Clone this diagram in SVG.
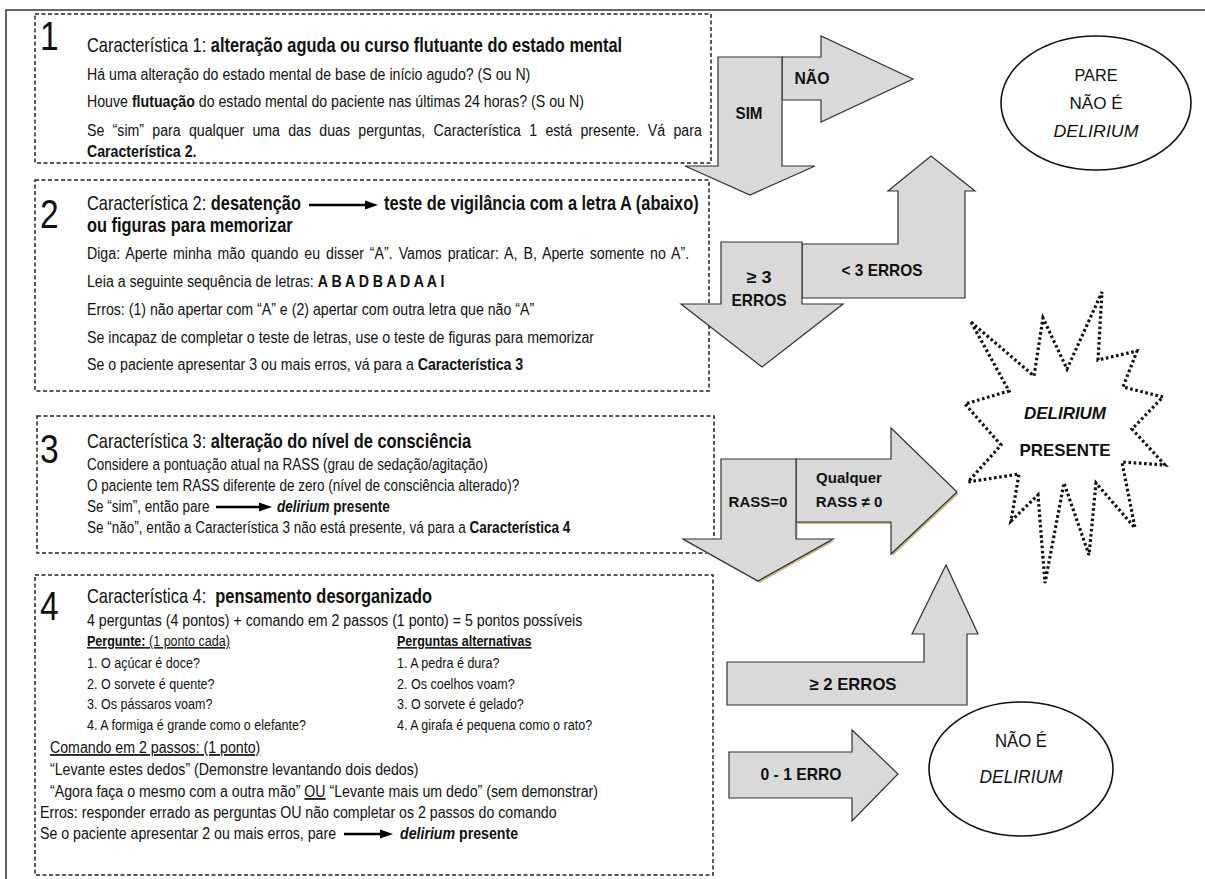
<svg xmlns="http://www.w3.org/2000/svg" width="1205" height="879" viewBox="0 0 1205 879">
<defs>
<style>
.t{font-family:'Liberation Sans',Arial,sans-serif;font-size:17.3px;fill:#111}
.s3{font-size:16.5px}
.s4{font-size:15.3px}
.b{font-weight:bold}
.h{font-size:20px;font-weight:normal}
.hb{font-size:20px;font-weight:bold}
.num{font-family:'Liberation Sans',Arial,sans-serif;font-size:41px;fill:#111}
.box{fill:none;stroke:#222;stroke-width:1.5;stroke-dasharray:4 2.5}
.arr{fill:#d9d9d9;stroke:#333;stroke-width:1.2}
.lab{font-family:'Liberation Sans',Arial,sans-serif;font-size:17px;font-weight:bold;fill:#111;text-anchor:middle}
.lab2{font-family:'Liberation Sans',Arial,sans-serif;font-size:15px;font-weight:bold;fill:#111;text-anchor:middle}
.ell{fill:#fff;stroke:#111;stroke-width:1.6}
.et{font-family:'Liberation Sans',Arial,sans-serif;font-size:17px;fill:#111;text-anchor:middle}
.en{font-family:'Liberation Sans',Arial,sans-serif;font-size:19px;fill:#111;text-anchor:middle}
.u{text-decoration:underline}
.ia{stroke:#000;stroke-width:2.5}
</style>
</defs>
<rect x="0" y="0" width="1205" height="879" fill="#fff"/>
<rect x="6" y="10" width="1210" height="880" fill="none" stroke="#333" stroke-width="1.5"/>

<g id="box1">
<rect class="box" x="35" y="14" width="676" height="149"/>
<g transform="scale(0.82,1)">
<text class="num" x="48.8" y="50">1</text>
<text class="t" x="106.1" y="52"><tspan class="h">Característica 1:</tspan><tspan class="hb"> alteração aguda ou curso flutuante do estado mental</tspan></text>
<text class="t" x="106.1" y="80">Há uma alteração do estado mental de base de início agudo? (S ou N)</text>
<text class="t" x="106.1" y="107">Houve <tspan class="b">flutuação</tspan> do estado mental do paciente nas últimas 24 horas?  (S ou N)</text>
<text class="t" x="106.1" y="136" word-spacing="5.3">Se “sim” para qualquer uma das duas perguntas, Característica 1 está presente. Vá para</text>
<text class="t b" x="106.1" y="157">Característica 2.</text>
</g>
</g>

<g id="box2">
<rect class="box" x="35" y="180" width="674" height="211"/>
<g transform="scale(0.82,1)">
<text class="num" x="48.8" y="228">2</text>
<text class="t" x="106.1" y="210"><tspan class="h">Característica 2:</tspan><tspan class="hb"> desatenção</tspan></text>
<text class="t hb" x="468.3" y="210">teste de vigilância com a letra A (abaixo)</text>
<text class="t hb" x="106.1" y="232">ou figuras para memorizar</text>
<text class="t" x="106.1" y="259" word-spacing="2.5">Diga: Aperte minha mão quando eu disser “A”. Vamos praticar: A, B, Aperte somente no A”.</text>
<text class="t" x="106.1" y="287">Leia a seguinte sequência de letras: <tspan class="b">A B A D B A D A A I</tspan></text>
<text class="t" x="106.1" y="315">Erros: (1) não apertar com “A” e (2) apertar com outra letra que não “A”</text>
<text class="t" x="106.1" y="343">Se incapaz de completar o teste de letras, use o teste de figuras para memorizar</text>
<text class="t" x="106.1" y="370">Se o paciente apresentar 3 ou mais erros, vá para a <tspan class="b">Característica 3</tspan></text>
</g>
<line class="ia" x1="309" y1="205" x2="368" y2="205"/>
<polygon points="365,200.5 378,205 365,209.5" fill="#000"/>
</g>

<g id="box3">
<rect class="box" x="37" y="416" width="677" height="137"/>
<g transform="scale(0.82,1)">
<text class="num" x="48.8" y="463">3</text>
<text class="t" x="106.1" y="448"><tspan class="h">Característica 3:</tspan><tspan class="hb"> alteração do nível de consciência</tspan></text>
<text class="t s3" x="106.1" y="470">Considere a pontuação atual na RASS (grau de sedação/agitação)</text>
<text class="t s3" x="106.1" y="491">O paciente tem RASS diferente de zero (nível de consciência alterado)?</text>
<text class="t s3" x="106.1" y="512">Se “sim”, então pare</text>
<text class="t s3 b" x="337.8" y="512"><tspan font-style="italic">delirium</tspan> presente</text>
<text class="t s3" x="106.1" y="533">Se “não”, então a Característica 3 não está presente, vá para a <tspan class="b">Característica 4</tspan></text>
</g>
<line class="ia" x1="216" y1="507" x2="262" y2="507"/>
<polygon points="259,502.5 272,507 259,511.5" fill="#000"/>
</g>

<g id="box4">
<rect class="box" x="35" y="575" width="678" height="300"/>
<g transform="scale(0.82,1)">
<text class="num" x="48.8" y="620">4</text>
<text class="t" x="106.1" y="603" xml:space="preserve"><tspan class="h">Característica 4:</tspan><tspan class="hb">  pensamento desorganizado</tspan></text>
<text class="t" x="106.1" y="626">4 perguntas (4 pontos) + comando em 2 passos (1 ponto) = 5 pontos possíveis</text>
<text class="t s4 u" x="106.1" y="646"><tspan class="b">Pergunte:</tspan> (1 ponto cada)</text>
<text class="t s4 b u" x="484.1" y="646">Perguntas alternativas</text>
<text class="t s4" x="106.1" y="668">1. O açúcar é doce?</text>
<text class="t s4" x="106.1" y="689">2. O sorvete é quente?</text>
<text class="t s4" x="106.1" y="709">3. Os pássaros voam?</text>
<text class="t s4" x="106.1" y="730">4. A formiga é grande como o elefante?</text>
<text class="t s4" x="484.1" y="668">1. A pedra é dura?</text>
<text class="t s4" x="484.1" y="689">2. Os coelhos voam?</text>
<text class="t s4" x="484.1" y="709">3. O sorvete é gelado?</text>
<text class="t s4" x="484.1" y="730">4. A girafa é pequena como o rato?</text>
<text class="t u" x="61" y="753">Comando em 2 passos: (1 ponto)</text>
<text class="t" x="61" y="775">“Levante estes dedos” (Demonstre levantando dois dedos)</text>
<text class="t" x="61" y="797">“Agora faça o mesmo com a outra mão” <tspan class="u">OU</tspan> “Levante mais um dedo” (sem demonstrar)</text>
<text class="t" x="48.8" y="818">Erros: responder errado as perguntas OU não completar os 2 passos do comando</text>
<text class="t" x="48.8" y="839">Se o paciente apresentar 2 ou mais erros, pare</text>
<text class="t b" x="487.8" y="839"><tspan font-style="italic">delirium</tspan> presente</text>
</g>
<line class="ia" x1="344" y1="834" x2="383" y2="834"/>
<polygon points="380,829.5 393,834 380,838.5" fill="#000"/>
</g>

<g id="connectors">
<g id="arrow-sim-nao">
<polygon class="arr" points="782,57 821,57 821,36 913,79 821,122 821,100 782,100"/>
<polygon class="arr" points="718,57 782,57 782,166 815,166 750,195 685,166 718,166"/>
<text class="lab" x="812" y="84" textLength="35" lengthAdjust="spacingAndGlyphs">NÃO</text>
<text class="lab" x="749" y="119" textLength="27" lengthAdjust="spacingAndGlyphs">SIM</text>
</g>
<g id="arrow-erros3">
<polygon class="arr" points="802,244 898,244 898,191 888,191 931,156 975,191 965,191 965,298 802,298"/>
<polygon class="arr" points="721,242 802,242 802,304 843,304 762,367 681,304 721,304"/>
<text class="lab" x="882" y="276" textLength="81" lengthAdjust="spacingAndGlyphs">&lt; 3 ERROS</text>
<text class="lab" x="759" y="283" textLength="25" lengthAdjust="spacingAndGlyphs">≥ 3</text>
<text class="lab" x="759" y="306" textLength="55" lengthAdjust="spacingAndGlyphs">ERROS</text>
</g>
<g id="arrow-rass">
<polygon points="796,459 891,459 891,428 957,492 891,554 891,522 796,522" fill="#c9b483" transform="translate(1.5,2)"/>
<polygon points="721,459 796,459 796,539 833,539 758,581 683,539 721,539" fill="#c9b483" transform="translate(1.5,2)"/>
<polygon class="arr" points="796,459 891,459 891,428 957,492 891,554 891,522 796,522"/>
<polygon class="arr" points="721,459 796,459 796,539 833,539 758,581 683,539 721,539"/>
<text class="lab2" x="758" y="507">RASS=0</text>
<text class="lab2" x="849" y="483">Qualquer</text>
<text class="lab2" x="849" y="507">RASS ≠ 0</text>
</g>
<g id="arrow-erros2">
<polygon class="arr" points="727,662 924,662 924,634 912,634 946,565 978,634 967,634 967,705 727,705"/>
<text class="lab" x="853" y="690" textLength="87" lengthAdjust="spacingAndGlyphs">≥ 2 ERROS</text>
</g>
<g id="arrow-erro01">
<polygon class="arr" points="729,752 852,752 852,730 898,774 852,821 852,798 729,798"/>
<text class="lab" x="801" y="780" textLength="81" lengthAdjust="spacingAndGlyphs">0 - 1 ERRO</text>
</g>
</g>

<g id="pare">
<ellipse class="ell" cx="1096" cy="103" rx="95" ry="67"/>
<text class="et" x="1096" y="81" textLength="43" lengthAdjust="spacingAndGlyphs">PARE</text>
<text class="et" x="1096" y="109" textLength="53" lengthAdjust="spacingAndGlyphs">NÃO É</text>
<text class="et" x="1096" y="137" font-style="italic" textLength="85" lengthAdjust="spacingAndGlyphs">DELIRIUM</text>
</g>

<g id="delirium-presente">
<polygon points="971,322 1034,376 1043,318 1067,369 1102,292 1098,360 1137,351 1123,387 1163,397 1132,429 1165,465 1122,462 1135,528 1096,483 1089,555 1064,483 1045,583 1038,495 1011,521 1019,474 968,482 1001,445 965,404 1009,391" fill="#fff" stroke="#111" stroke-width="3.2" stroke-dasharray="2.6 2.6"/>
<text class="lab" x="1065" y="419" font-size="21" font-style="italic" textLength="82" lengthAdjust="spacingAndGlyphs">DELIRIUM</text>
<text class="lab" x="1065" y="456" font-size="21" textLength="91" lengthAdjust="spacingAndGlyphs">PRESENTE</text>
</g>

<g id="nao-delirium">
<ellipse class="ell" cx="1021" cy="769" rx="92" ry="67"/>
<text class="en" x="1021" y="747" textLength="52" lengthAdjust="spacingAndGlyphs">NÃO É</text>
<text class="en" x="1021" y="783" font-style="italic" textLength="83" lengthAdjust="spacingAndGlyphs">DELIRIUM</text>
</g>
</svg>
